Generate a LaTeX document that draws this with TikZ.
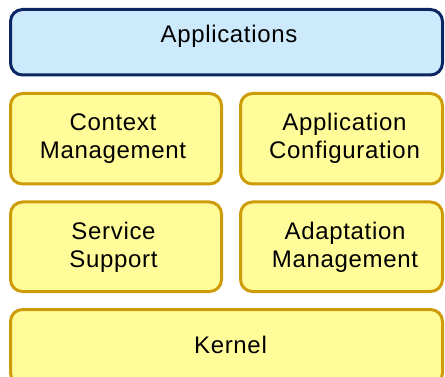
\documentclass[tikz,border=0pt]{standalone}
\usepackage{fontspec}
\setmainfont{Liberation Sans}[LetterSpace=2.8]
\definecolor{appfill}{RGB}{204,234,252}
\definecolor{appline}{RGB}{12,38,100}
\definecolor{modfill}{RGB}{255,252,153}
\definecolor{modline}{RGB}{206,156,8}
\tikzset{
  layer/.style={draw, line width=3pt, rounded corners=12pt,
    inner sep=0pt, outer sep=0pt},
  applayer/.style={layer, fill=appfill, draw=appline},
  modlayer/.style={layer, fill=modfill, draw=modline},
  caption/.style={align=center, inner sep=0pt, text=black,
    font=\fontsize{24}{28}\selectfont}
}
\begin{document}
\begin{tikzpicture}[x=1pt, y=-1pt]
  \useasboundingbox (0,0) rectangle (445,377);
  \clip (0,0) rectangle (445,377);
  % layer boxes
  \node[applayer, minimum width=432pt, minimum height=65.5pt] (apps) at (226.5,42.25) {};
  \node[modlayer, minimum width=211pt, minimum height=90.5pt] (ctx) at (116,138.75) {};
  \node[modlayer, minimum width=202pt, minimum height=90.5pt] (cfg) at (341.5,138.75) {};
  \node[modlayer, minimum width=211pt, minimum height=89.5pt] (svc) at (116,246.75) {};
  \node[modlayer, minimum width=202pt, minimum height=89.5pt] (adp) at (341.5,246.75) {};
  \node[modlayer, minimum width=432pt, minimum height=75.5pt] (kern) at (226.5,347.25) {};
  % layer captions
  \node[caption, anchor=base] (appst) at ([xshift=2.5pt]apps.center) {Applications};
  \node[caption] (ctxt) at ([xshift=-3pt]ctx.center) {Context\\Management};
  \node[caption] (cfgt) at ([xshift=3pt]cfg.center) {Application\\Configuration};
  \node[caption] (svct) at ([xshift=-2.5pt,yshift=-1pt]svc.center) {Service\\Support};
  \node[caption] (adpt) at ([xshift=3.5pt,yshift=-1pt]adp.center) {Adaptation\\Management};
  \node[caption] (kernt) at ([xshift=4pt,yshift=2pt]kern.center) {Kernel};
\end{tikzpicture}
\end{document}
